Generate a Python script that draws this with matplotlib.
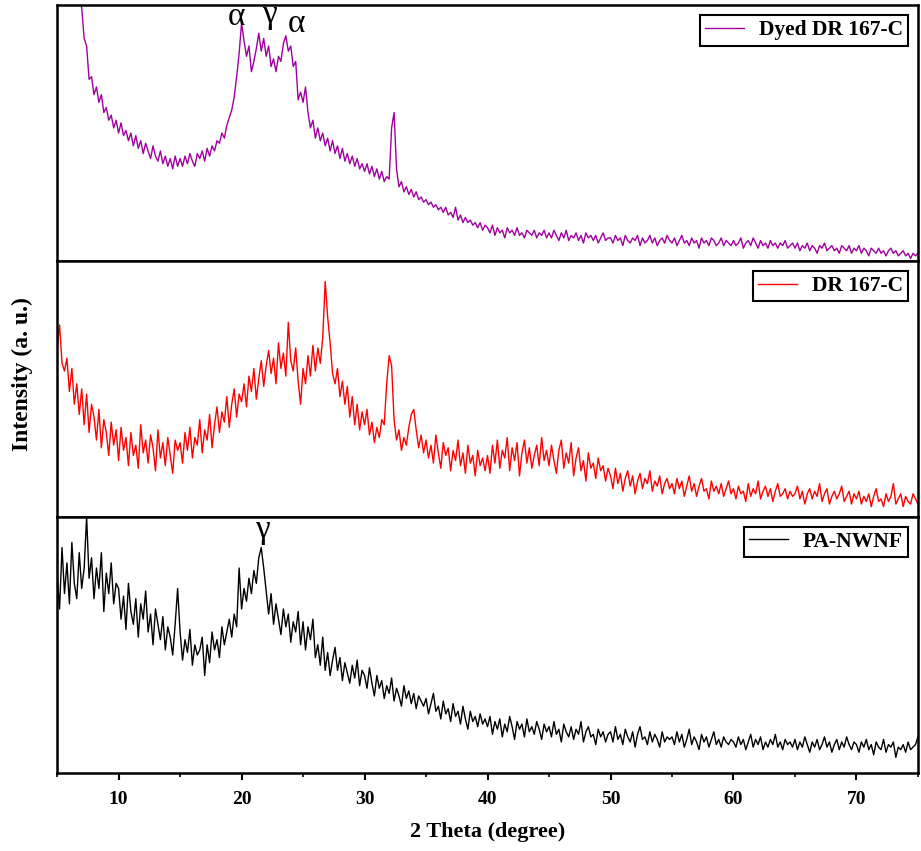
import numpy as np
import matplotlib.pyplot as plt
from matplotlib.ticker import MultipleLocator

# 2 theta grid, one reading every 0.2 degree from 5 to 75
two_theta = np.linspace(5, 75, 351)

# intensities (arbitrary units, 0-100 per panel)
dyed_dr167c = [
    190, 177, 167, 153, 146, 134, 128, 117, 113, 102, 99, 87, 84, 71, 72, 65, 68, 62, 65, 58, 60, 55, 57, 52, 55,
    50, 54, 49, 51, 47, 50, 45, 49, 44, 47, 42, 46, 43, 40, 45, 41, 39, 43, 38, 41, 37, 40, 36, 41, 37,
    40, 37, 41, 38, 42, 39, 37, 42, 40, 43, 39, 44, 41, 45, 43, 47, 46, 50, 48, 53, 56, 59, 64, 72, 81,
    93, 86, 80, 84, 74, 78, 83, 89, 82, 87, 80, 84, 76, 79, 74, 80, 78, 85, 88, 82, 84, 76, 78, 63, 66,
    62, 68, 58, 52, 55, 48, 52, 47, 50, 45, 48, 43, 47, 42, 45, 40, 44, 39, 42, 38, 41, 37, 40, 36, 38,
    35, 38, 34, 37, 33, 36, 32, 35, 31, 33, 32, 52, 58, 36, 29, 31, 27, 29, 26, 28, 25, 27, 24, 25, 23,
    24, 22, 23, 21, 22, 20, 21, 19, 21, 18, 19, 17, 21, 16, 18, 15, 17, 15, 16, 14, 15, 13, 15, 12, 14,
    13, 11, 14, 10, 13, 11, 12, 9, 13, 11, 12, 10, 13, 10, 11, 9, 12, 11, 10, 12, 9, 11, 10, 12, 9,
    11, 9, 12, 10, 8, 11, 9, 12, 8, 10, 9, 11, 8, 10, 7, 11, 9, 10, 8, 10, 7, 9, 11, 8, 9,
    9, 7, 10, 8, 9, 6, 10, 8, 7, 9, 8, 10, 6, 9, 7, 8, 10, 7, 9, 6, 8, 9, 7, 10, 8,
    7, 9, 6, 8, 10, 7, 8, 6, 9, 7, 8, 5, 9, 7, 8, 6, 9, 8, 6, 7, 9, 6, 8, 7, 6,
    8, 6, 7, 9, 5, 7, 8, 6, 9, 7, 5, 8, 6, 7, 5, 8, 6, 7, 5, 7, 6, 8, 5, 6, 7,
    5, 7, 4, 6, 5, 7, 4, 6, 5, 3, 6, 5, 7, 4, 5, 6, 4, 5, 3, 6, 5, 4, 6, 3, 5,
    4, 6, 3, 5, 4, 2, 5, 4, 3, 5, 3, 4, 2, 4, 5, 3, 4, 2, 3, 4, 2, 3, 1, 3, 2,
    3,
]

dr167c = [
    66, 75, 60, 57, 62, 49, 58, 44, 52, 40, 50, 36, 48, 33, 44, 39, 30, 42, 27, 38, 33, 24, 37, 28, 34,
    22, 35, 26, 31, 20, 33, 24, 28, 19, 36, 25, 30, 21, 32, 27, 18, 34, 23, 29, 20, 31, 24, 17, 30, 26,
    29, 21, 33, 26, 35, 23, 31, 28, 38, 25, 34, 30, 40, 27, 36, 43, 33, 41, 37, 47, 35, 44, 50, 39, 48,
    45, 52, 43, 55, 49, 58, 46, 54, 61, 51, 59, 65, 56, 62, 52, 68, 58, 64, 55, 76, 61, 57, 66, 53, 44,
    58, 52, 63, 55, 67, 57, 66, 60, 70, 92, 78, 68, 56, 52, 58, 47, 53, 44, 51, 39, 47, 36, 44, 34, 41,
    36, 42, 32, 37, 29, 35, 31, 38, 36, 52, 63, 59, 38, 30, 34, 26, 31, 28, 35, 40, 42, 34, 27, 32, 25,
    30, 23, 28, 21, 32, 25, 19, 29, 24, 27, 18, 26, 22, 30, 20, 25, 17, 28, 21, 24, 16, 26, 20, 23, 18,
    24, 17, 28, 21, 30, 19, 26, 23, 31, 18, 27, 22, 29, 16, 25, 30, 21, 27, 19, 24, 28, 20, 31, 22, 26,
    20, 28, 22, 17, 26, 30, 19, 25, 21, 29, 16, 23, 27, 18, 22, 14, 25, 19, 21, 15, 23, 18, 20, 14, 19,
    16, 11, 19, 13, 17, 10, 15, 18, 12, 16, 9, 14, 17, 11, 15, 13, 18, 10, 14, 12, 16, 9, 13, 15, 11,
    13, 9, 15, 11, 14, 8, 12, 16, 10, 13, 8, 12, 15, 10, 11, 7, 14, 10, 12, 9, 13, 8, 11, 14, 9,
    11, 7, 12, 9, 10, 6, 13, 8, 11, 9, 14, 7, 10, 12, 8, 11, 6, 10, 13, 8, 9, 11, 7, 10, 8,
    9, 12, 7, 10, 5, 9, 11, 7, 10, 8, 13, 6, 9, 11, 5, 8, 10, 7, 9, 12, 6, 8, 10, 5, 9,
    7, 10, 5, 8, 6, 9, 4, 8, 11, 6, 7, 4, 9, 6, 8, 13, 5, 7, 9, 4, 8, 6, 5, 9, 7,
    5,
]

pa_nwnf = [
    78, 64, 88, 70, 82, 66, 90, 74, 68, 86, 72, 80, 100, 76, 84, 68, 80, 72, 86, 63, 78, 70, 82, 66, 74,
    72, 60, 69, 56, 74, 63, 58, 68, 53, 66, 60, 71, 55, 62, 50, 64, 58, 52, 61, 48, 57, 53, 46, 58, 72,
    55, 44, 52, 47, 56, 42, 50, 46, 48, 53, 38, 50, 43, 55, 48, 52, 45, 57, 50, 55, 60, 53, 62, 57, 80,
    64, 72, 67, 76, 70, 79, 74, 84, 88, 80, 71, 62, 70, 58, 66, 60, 54, 64, 57, 62, 51, 59, 55, 63, 50,
    59, 48, 57, 52, 60, 45, 50, 42, 53, 40, 47, 38, 44, 49, 40, 45, 36, 43, 39, 35, 42, 37, 44, 34, 40,
    38, 33, 41, 35, 30, 38, 33, 36, 29, 34, 31, 37, 28, 33, 30, 26, 34, 29, 32, 27, 31, 25, 30, 28, 26,
    29, 23, 27, 31, 24, 26, 21, 28, 23, 25, 20, 27, 22, 24, 19, 26, 21, 17, 24, 20, 22, 18, 23, 19, 21,
    18, 22, 15, 20, 17, 21, 14, 19, 16, 22, 18, 13, 20, 17, 19, 14, 21, 16, 18, 15, 20, 17, 13, 19, 16,
    18, 14, 20, 15, 17, 12, 19, 16, 14, 18, 13, 17, 15, 20, 12, 16, 18, 14, 15, 11, 17, 14, 16, 12, 15,
    16, 12, 18, 13, 15, 11, 17, 14, 12, 16, 10, 15, 18, 13, 14, 11, 16, 12, 15, 13, 10, 16, 12, 14, 13,
    14, 11, 16, 12, 15, 10, 13, 17, 11, 14, 12, 9, 15, 12, 14, 10, 13, 16, 11, 13, 10, 14, 12, 11, 13,
    12, 10, 14, 11, 13, 9, 12, 15, 10, 13, 11, 14, 9, 12, 10, 13, 11, 15, 10, 12, 9, 13, 11, 12, 10,
    13, 9, 12, 10, 14, 11, 8, 12, 10, 13, 9, 11, 14, 10, 12, 8, 11, 13, 9, 12, 10, 14, 11, 9, 12,
    11, 8, 12, 10, 13, 9, 11, 7, 12, 10, 9, 13, 8, 11, 10, 12, 6, 10, 9, 11, 8, 12, 9, 10, 11,
    14,
]

labels = ['Dyed DR 167-C', 'DR 167-C', 'PA-NWNF']
colors = ['#A000A0', '#FF0000', '#000000']
series = [dyed_dr167c, dr167c, pa_nwnf]

plt.rcParams['font.family'] = ['Liberation Serif', 'DejaVu Serif']

fig, axes = plt.subplots(3, 1, sharex=True, figsize=(9.21, 8.51), dpi=100)
fig.subplots_adjust(left=0.062, right=0.9967, top=0.994, bottom=0.092, hspace=0)

for ax, y, lab, col in zip(axes, series, labels, colors):
    ax.plot(two_theta, y, color=col, lw=1.0, label=lab)
    ax.set_ylim(0, 100)
    ax.set_xlim(5, 75)
    ax.set_yticks([])
    for s in ax.spines.values():
        s.set_linewidth(1.8)
    leg = ax.legend(loc='upper right', fancybox=False, framealpha=1, edgecolor='black',
                    prop={'weight': 'bold', 'size': 15.5}, handlelength=1.8,
                    borderpad=0.25, borderaxespad=0.45, handletextpad=0.7)
    leg.get_frame().set_linewidth(1.5)

for ax in axes[:2]:
    ax.tick_params(axis='x', which='both', bottom=False, labelbottom=False)

bax = axes[2]
bax.xaxis.set_major_locator(MultipleLocator(10))
bax.xaxis.set_minor_locator(MultipleLocator(5))
bax.tick_params(axis='x', which='major', direction='out', length=5, width=1.5, labelsize=14, pad=8)
bax.tick_params(axis='x', which='minor', direction='out', length=3, width=1.2)
for t in bax.get_xticklabels():
    t.set_fontweight('bold')

# phase labels
axes[0].text(19.55, 92.2, 'α', fontsize=24, ha='center', va='baseline')
axes[0].text(22.3, 93, 'γ', fontsize=24, ha='center', va='baseline')
axes[0].text(24.5, 89.5, 'α', fontsize=24, ha='center', va='baseline')
axes[2].text(21.7, 91.8, 'γ', fontsize=24, ha='center', va='baseline')

fig.text(0.529, 0.022, '2 Theta (degree)', ha='center', va='center', fontsize=16, fontweight='bold')
fig.text(0.024, 0.56, 'Intensity (a. u.)', ha='center', va='center', rotation=90,
         fontsize=17, fontweight='bold')

fig.savefig('out.png', dpi=100)
